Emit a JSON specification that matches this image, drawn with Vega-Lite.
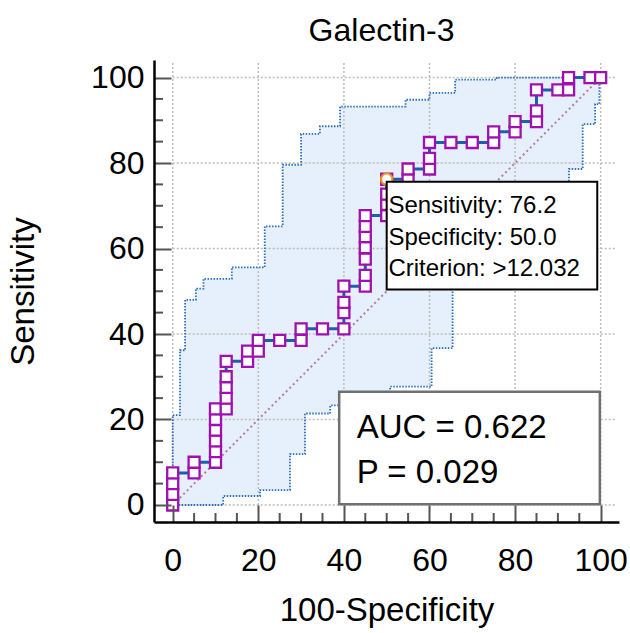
{
  "$schema": "https://vega.github.io/schema/vega-lite/v6.json",
  "width": 465,
  "height": 462,
  "autosize": "none",
  "padding": {"left": 154, "top": 60, "right": 11, "bottom": 111},
  "background": "white",
  "config": {"view": {"stroke": null}, "font": "Liberation Sans"},
  "title": {"text": "Galectin-3", "fontSize": 32, "font": "Liberation Sans", "fontWeight": "normal", "color": "black", "anchor": "middle", "offset": 12, "dx": -5},
  "datasets": {
    "roc": [{"x":0,"y":0},{"x":0,"y":2.5},{"x":0,"y":5},{"x":0,"y":7.5},{"x":5,"y":7.5},{"x":5,"y":10},{"x":10,"y":10},{"x":10,"y":12.5},{"x":10,"y":15},{"x":10,"y":17.5},{"x":10,"y":20},{"x":10,"y":22.5},{"x":12.5,"y":22.5},{"x":12.5,"y":25},{"x":12.5,"y":27.5},{"x":12.5,"y":30},{"x":12.5,"y":33.6},{"x":17.5,"y":33.6},{"x":17.5,"y":36},{"x":20,"y":36},{"x":20,"y":38.5},{"x":25,"y":38.5},{"x":30,"y":38.5},{"x":30,"y":41.2},{"x":35,"y":41.2},{"x":40,"y":41.2},{"x":40,"y":45},{"x":40,"y":47.4},{"x":40,"y":51.2},{"x":45,"y":51.2},{"x":45,"y":53.7},{"x":45,"y":57.5},{"x":45,"y":60.2},{"x":45,"y":62.8},{"x":45,"y":65.2},{"x":45,"y":67.7},{"x":50,"y":67.7},{"x":50,"y":70.3},{"x":50,"y":72.7},{"x":50,"y":76.2},{"x":55,"y":76.2},{"x":55,"y":78.6},{"x":60,"y":78.6},{"x":60,"y":81.1},{"x":60,"y":84.8},{"x":65,"y":84.8},{"x":70,"y":84.8},{"x":75,"y":84.8},{"x":75,"y":87.3},{"x":80,"y":87.3},{"x":80,"y":89.7},{"x":85,"y":89.7},{"x":85,"y":92.2},{"x":85,"y":97.1},{"x":90,"y":97.1},{"x":92.5,"y":97.1},{"x":92.5,"y":100},{"x":97.5,"y":100},{"x":100,"y":100}],
    "ci": [{"x":0,"hi":0,"lo":0},{"x":0,"hi":21.0,"lo":0},{"x":1.7,"hi":36.2,"lo":0},{"x":2.9,"hi":48.0,"lo":0},{"x":5.4,"hi":50.6,"lo":0},{"x":7.2,"hi":52.9,"lo":0},{"x":11.8,"hi":52.9,"lo":2.1},{"x":13.8,"hi":55.6,"lo":2.1},{"x":20.4,"hi":55.6,"lo":3.5},{"x":21.5,"hi":65.2,"lo":3.5},{"x":25.7,"hi":79.6,"lo":3.5},{"x":27.4,"hi":79.6,"lo":11.9},{"x":30.0,"hi":86.8,"lo":11.9},{"x":30.9,"hi":86.8,"lo":21.4},{"x":34.4,"hi":88.6,"lo":21.4},{"x":36.8,"hi":88.6,"lo":23.3},{"x":39.1,"hi":93.2,"lo":23.3},{"x":50.8,"hi":93.2,"lo":27.7},{"x":54.4,"hi":94.8,"lo":27.7},{"x":60.0,"hi":96.4,"lo":27.7},{"x":60.5,"hi":96.4,"lo":36.7},{"x":65.4,"hi":96.4,"lo":55},{"x":66.0,"hi":99.5,"lo":55},{"x":75.0,"hi":99.5,"lo":66},{"x":75.7,"hi":100,"lo":66},{"x":85.0,"hi":100,"lo":72},{"x":92.6,"hi":100,"lo":78.6},{"x":95.8,"hi":100,"lo":89.1},{"x":98.7,"hi":100,"lo":93.8},{"x":99.7,"hi":100,"lo":100},{"x":100,"hi":100,"lo":100}],
    "grid": [{"g":0},{"g":20},{"g":40},{"g":60},{"g":80},{"g":100}],
    "minor": [{"m":5},{"m":10},{"m":15},{"m":25},{"m":30},{"m":35},{"m":45},{"m":50},{"m":55},{"m":65},{"m":70},{"m":75},{"m":85},{"m":90},{"m":95}],
    "diag": [{"x":0,"y":0},{"x":100,"y":100}],
    "opt": [{"x":50,"y":76.2}],
    "box1": [{"label":"Sensitivity: 76.2\nSpecificity: 50.0\nCriterion: >12.032"}],
    "box2": [{"label":"AUC = 0.622\nP = 0.029"}]
  },
  "layer": [
    {
      "data": {"name": "ci"},
      "mark": {"type": "area", "interpolate": "step-after", "color": "#e6f0fc", "opacity": 1},
      "encoding": {
        "x": {"field": "x", "type": "quantitative",
          "scale": {"domain": [-4.37, 104.28], "nice": false, "zero": false},
          "axis": {
            "title": "100-Specificity", "titleFontSize": 33, "titleFont": "Liberation Sans", "titleFontWeight": "normal", "titleColor": "black", "titlePadding": 18,
            "values": [0,20,40,60,80,100],
            "labelFontSize": 32, "labelColor": "black", "labelFont": "Liberation Sans", "labelPadding": 40, "labelFlush": false, "labelOverlap": false,
            "grid": false, "domain": true, "ticks": true, "domainColor": "black", "domainWidth": 2.5, "tickColor": "#555555", "tickWidth": 2, "tickSize": -17, "zindex": 1
          }
        },
        "y": {"field": "hi", "type": "quantitative",
          "scale": {"domain": [-3.98, 104.1], "nice": false, "zero": false},
          "axis": {
            "title": "Sensitivity", "titleFontSize": 33, "titleFont": "Liberation Sans", "titleFontWeight": "normal", "titleColor": "black", "titlePadding": 50,
            "values": [0,20,40,60,80,100],
            "labelFontSize": 32, "labelColor": "black", "labelFont": "Liberation Sans", "labelPadding": 27, "labelOverlap": false,
            "grid": false, "domain": true, "ticks": true, "domainColor": "black", "domainWidth": 2.5, "tickColor": "#555555", "tickWidth": 2, "tickSize": -17, "zindex": 1
          }
        },
        "y2": {"field": "lo"}
      }
    },
    {
      "data": {"name": "grid"},
      "mark": {"type": "rule", "color": "#bdbdbd", "strokeWidth": 1.5, "strokeDash": [2, 2]},
      "encoding": {
        "y": {"field": "g", "type": "quantitative"},
        "x": {"datum": 0, "type": "quantitative"},
        "x2": {"datum": 103.4}
      }
    },
    {
      "data": {"name": "grid"},
      "mark": {"type": "rule", "color": "#bdbdbd", "strokeWidth": 1.5, "strokeDash": [2, 2]},
      "encoding": {
        "x": {"field": "g", "type": "quantitative"},
        "y": {"datum": 0, "type": "quantitative"},
        "y2": {"datum": 103.4}
      }
    },
    {
      "data": {"name": "minor"},
      "mark": {"type": "rule", "color": "#555555", "strokeWidth": 2},
      "encoding": {
        "x": {"field": "m", "type": "quantitative"},
        "y": {"datum": -3.98, "type": "quantitative"},
        "y2": {"datum": -1.88}
      }
    },
    {
      "data": {"name": "minor"},
      "mark": {"type": "rule", "color": "#555555", "strokeWidth": 2},
      "encoding": {
        "y": {"field": "m", "type": "quantitative"},
        "x": {"datum": -4.37, "type": "quantitative"},
        "x2": {"datum": -2.27}
      }
    },
    {
      "data": {"name": "ci"},
      "mark": {"type": "line", "interpolate": "step-after", "color": "#2b6fc0", "strokeWidth": 1.8, "strokeDash": [1.5, 1.5]},
      "encoding": {
        "x": {"field": "x", "type": "quantitative"},
        "y": {"field": "hi", "type": "quantitative"},
        "order": {"value": null}
      }
    },
    {
      "data": {"name": "ci"},
      "mark": {"type": "line", "interpolate": "step-after", "color": "#2b6fc0", "strokeWidth": 1.8, "strokeDash": [1.5, 1.5]},
      "encoding": {
        "x": {"field": "x", "type": "quantitative"},
        "y": {"field": "lo", "type": "quantitative"},
        "order": {"value": null}
      }
    },
    {
      "data": {"name": "diag"},
      "mark": {"type": "line", "color": "#b07f98", "strokeWidth": 2, "strokeDash": [2, 3]},
      "encoding": {
        "x": {"field": "x", "type": "quantitative"},
        "y": {"field": "y", "type": "quantitative"}
      }
    },
    {
      "data": {"name": "roc"},
      "mark": {"type": "line", "color": "#1f5fa8", "strokeWidth": 3},
      "encoding": {
        "x": {"field": "x", "type": "quantitative"},
        "y": {"field": "y", "type": "quantitative"},
        "order": {"value": null}
      }
    },
    {
      "data": {"name": "roc"},
      "mark": {"type": "point", "shape": "square", "size": 121, "filled": false, "fill": "white", "fillOpacity": 1, "stroke": "#a010b0", "strokeWidth": 2.3, "opacity": 1},
      "encoding": {
        "x": {"field": "x", "type": "quantitative"},
        "y": {"field": "y", "type": "quantitative"}
      }
    },
    {
      "data": {"name": "opt"},
      "mark": {"type": "point", "shape": "circle", "size": 130, "filled": false, "fill": "white", "fillOpacity": 1, "stroke": "#f39019", "strokeWidth": 2, "opacity": 1},
      "encoding": {
        "x": {"field": "x", "type": "quantitative"},
        "y": {"field": "y", "type": "quantitative"}
      }
    },
    {
      "data": {"name": "box1"},
      "mark": {"type": "rect", "fill": "white", "stroke": "black", "strokeWidth": 2},
      "encoding": {
        "x": {"datum": 50.0, "type": "quantitative"},
        "x2": {"datum": 99.2},
        "y": {"datum": 75.6, "type": "quantitative"},
        "y2": {"datum": 50.4}
      }
    },
    {
      "data": {"name": "box1"},
      "mark": {"type": "text", "align": "left", "baseline": "alphabetic", "fontSize": 24, "font": "Liberation Sans", "color": "black", "lineBreak": "\n", "lineHeight": 31.5},
      "encoding": {
        "x": {"datum": 50.4, "type": "quantitative"},
        "y": {"datum": 68.2, "type": "quantitative"},
        "text": {"field": "label"}
      }
    },
    {
      "data": {"name": "box2"},
      "mark": {"type": "rect", "fill": "white", "stroke": "#707070", "strokeWidth": 2.5},
      "encoding": {
        "x": {"datum": 38.9, "type": "quantitative"},
        "x2": {"datum": 99.8},
        "y": {"datum": 26.5, "type": "quantitative"},
        "y2": {"datum": 0.2}
      }
    },
    {
      "data": {"name": "box2"},
      "mark": {"type": "text", "align": "left", "baseline": "alphabetic", "fontSize": 33, "font": "Liberation Sans", "color": "black", "lineBreak": "\n", "lineHeight": 44.4},
      "encoding": {
        "x": {"datum": 43.0, "type": "quantitative"},
        "y": {"datum": 15.6, "type": "quantitative"},
        "text": {"field": "label"}
      }
    }
  ]
}
